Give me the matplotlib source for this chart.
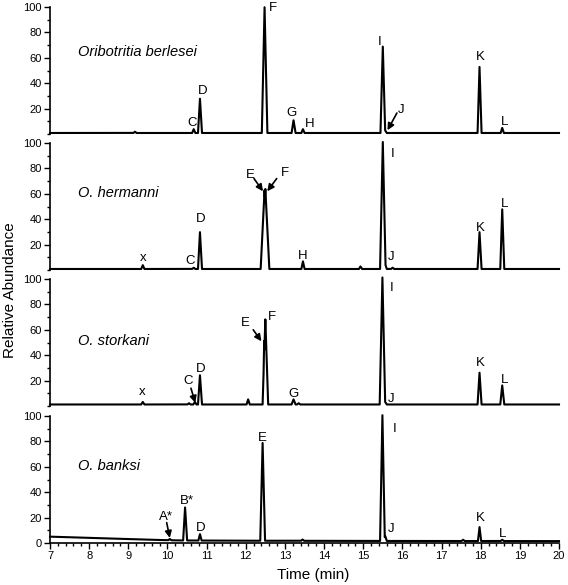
import numpy as np
import matplotlib
matplotlib.use("Agg")
from matplotlib import pyplot as plt
from matplotlib.ticker import MultipleLocator

plt.rcParams['font.family'] = ['Liberation Sans', 'DejaVu Sans']

# species shown in each panel (top to bottom)
species = ['Oribotritia berlesei', 'O. hermanni', 'O. storkani', 'O. banksi']

# retention times (min) and relative heights of the peaks, per panel
peak_times = [
    [9.17, 10.67, 10.83, 12.48, 13.22, 13.46, 15.50, 15.56, 17.97, 18.55],
    [9.37, 10.67, 10.83, 12.48, 12.50, 13.46, 14.93, 15.50, 15.56, 15.75, 17.97, 18.55],
    [9.37, 10.55, 10.70, 10.83, 12.06, 12.47, 12.50, 13.22, 13.35, 15.49, 15.56, 17.97, 18.55],
    [10.06, 10.45, 10.83, 12.43, 13.45, 15.49, 15.56, 17.55, 17.97, 18.55],
]
peak_heights = [
    [1, 3, 27, 99, 10, 3, 68, 2, 52, 4],
    [3, 1, 29, 62, 63, 6, 2, 100, 4, 1, 29, 47],
    [2, 1, 2, 23, 4, 50, 67, 4, 1, 100, 2, 25, 15],
    [1, 26, 5, 77, 1, 99, 4, 1, 11, 1],
]
peak_widths = [
    [0.04, 0.04, 0.05, 0.07, 0.05, 0.04, 0.06, 0.04, 0.05, 0.04],
    [0.04, 0.04, 0.05, 0.10, 0.10, 0.04, 0.04, 0.07, 0.04, 0.04, 0.05, 0.05],
    [0.04, 0.04, 0.04, 0.05, 0.04, 0.03, 0.07, 0.05, 0.04, 0.07, 0.04, 0.05, 0.05],
    [0.04, 0.05, 0.04, 0.06, 0.04, 0.06, 0.04, 0.04, 0.04, 0.04],
]

# baseline level read along the run (time, level)
base_times = [
    [7, 20],
    [7, 20],
    [7, 20],
    [7, 8, 9, 10, 10.4, 12, 16, 20],
]
base_levels = [
    [0.8, 0.8],
    [0.8, 0.8],
    [1.2, 1.2],
    [5.0, 4.1, 3.1, 2.2, 2.0, 1.8, 1.6, 1.5],
]

# peak labels: (text, x, y) and arrows: (x_from, y_from, x_to, y_to)
labels = [
    [('C', 10.63, 9), ('D', 10.91, 34), ('F', 12.70, 99), ('G', 13.18, 16.5),
     ('H', 13.62, 8), ('I', 15.43, 72.5), ('J', 15.97, 19), ('K', 17.98, 60.5),
     ('L', 18.62, 9.5)],
    [('x', 9.37, 9.5), ('C', 10.58, 7), ('D', 10.86, 40), ('E', 12.11, 75),
     ('F', 13.00, 76), ('H', 13.46, 11), ('I', 15.76, 91), ('J', 15.71, 10),
     ('K', 17.98, 33), ('L', 18.60, 52)],
    [('x', 9.35, 11), ('C', 10.52, 20), ('D', 10.86, 29), ('E', 12.00, 65),
     ('F', 12.66, 70), ('G', 13.22, 9.5), ('I', 15.73, 93), ('J', 15.71, 5.5),
     ('K', 17.98, 34), ('L', 18.60, 20.5)],
    [('A*', 9.96, 20.5), ('B*', 10.50, 33), ('D', 10.86, 12), ('E', 12.42, 83),
     ('I', 15.81, 90), ('J', 15.71, 11), ('K', 17.98, 20), ('L', 18.57, 7)],
]
arrows = [
    [(15.86, 16.5, 15.62, 3)],
    [(12.21, 72, 12.44, 62), (12.79, 72, 12.55, 62)],
    [(10.60, 14, 10.71, 2.5), (12.19, 60, 12.40, 51)],
    [(9.98, 16, 10.06, 4)],
]
name_pos = [(7.72, 64.5), (7.72, 61), (7.72, 51), (7.72, 61)]

fig = plt.figure(figsize=(5.68, 5.85), dpi=100)
left, width, height = 50 / 568, 509 / 568, 127 / 585
bottoms = [1 - 134 / 585, 1 - 270 / 585, 1 - 406 / 585, 1 - 543 / 585]

t = np.linspace(7, 20, 5201)
for i in range(4):
    ax = fig.add_axes([left, bottoms[i], width, height])
    base = np.interp(t, base_times[i], base_levels[i])
    sig = np.zeros_like(t)
    for pt, ph, pw in zip(peak_times[i], peak_heights[i], peak_widths[i]):
        sig = np.maximum(sig, np.interp(t, [pt - pw, pt, pt + pw], [0, ph, 0]))
    ax.plot(t, base + sig, color='black', lw=1.5, clip_on=False)

    ax.set_xlim(7, 20)
    ax.set_ylim(0, 100)
    ax.spines['top'].set_visible(False)
    ax.spines['right'].set_visible(False)
    ax.spines['left'].set_linewidth(1.2)
    ax.yaxis.set_minor_locator(MultipleLocator(10))
    if i < 3:
        ax.set_yticks([20, 40, 60, 80, 100])
        ax.spines['bottom'].set_visible(False)
        ax.tick_params(axis='x', which='both', bottom=False, labelbottom=False)
    else:
        ax.set_yticks([0, 20, 40, 60, 80, 100])
        ax.set_xticks(range(7, 21))
        ax.xaxis.set_minor_locator(MultipleLocator(0.2))
        ax.spines['bottom'].set_linewidth(1.2)
    ax.tick_params(which='major', length=4, width=1, labelsize=8, pad=2)
    ax.tick_params(which='minor', length=2.5, width=1)

    ax.text(name_pos[i][0], name_pos[i][1], species[i], fontsize=10.5,
            style='italic', va='center', ha='left')
    for txt, lx, ly in labels[i]:
        ax.text(lx, ly, txt, fontsize=9.5, ha='center', va='center')
    for x0, y0, x1, y1 in arrows[i]:
        ax.annotate('', xy=(x1, y1), xytext=(x0, y0),
                    arrowprops=dict(arrowstyle='-|>', color='black', lw=1.2,
                                    mutation_scale=10, shrinkA=0, shrinkB=0))

fig.text(313 / 568, 0.017, 'Time (min)', ha='center', va='center', fontsize=11)
fig.text(0.017, 0.504, 'Relative Abundance', ha='center', va='center',
         rotation=90, fontsize=11)

fig.savefig('out.png', dpi=100)
